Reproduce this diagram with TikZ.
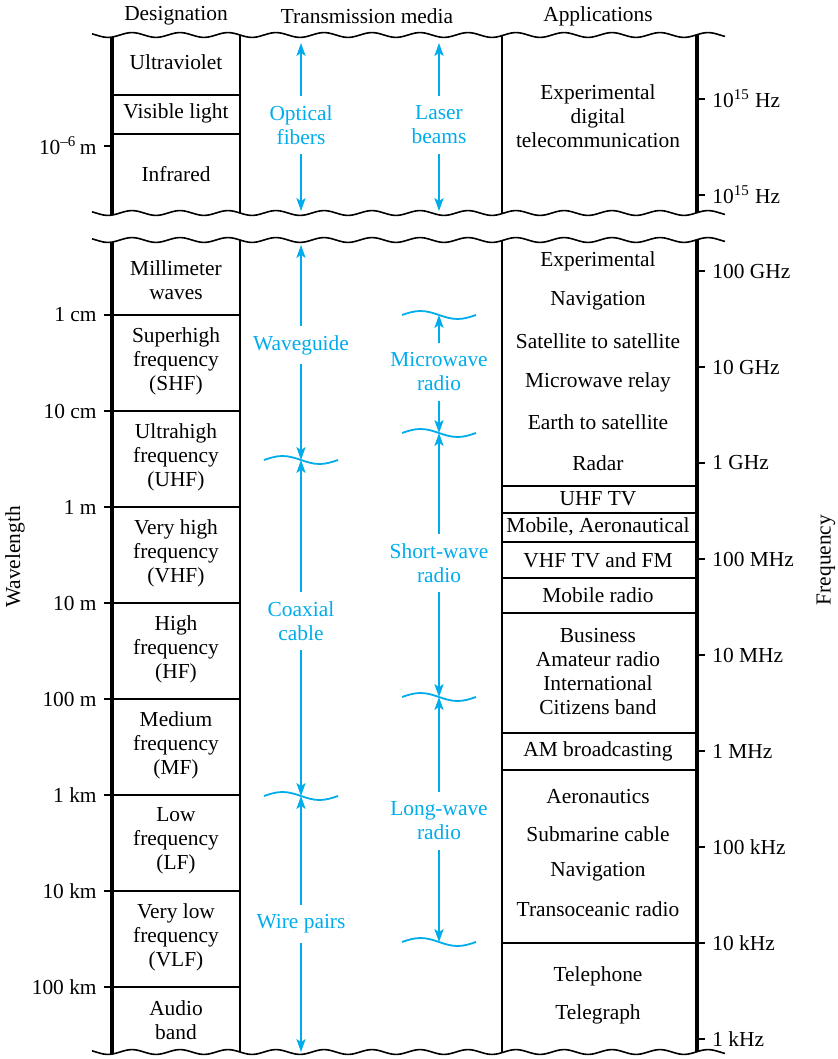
\documentclass[tikz,border=0pt]{standalone}
\usepackage{fontspec}
\setmainfont{Liberation Serif}
\usetikzlibrary{arrows.meta}
\definecolor{mediaBlue}{RGB}{0,172,236}
\newcommand{\brkline}[1]{\draw[rule] plot[domain=92:725,samples=220,smooth] (\x,{#1+2.4*sin(7.5*\x)});}

\begin{document}
\begin{tikzpicture}[x=0.5pt,y=-0.5pt,
  lab/.style={font=\fontsize{10.7}{12}\selectfont,align=center,inner sep=1pt},
  media/.style={lab,text=mediaBlue,inner sep=4.5pt},
  medarrow/.style={draw=mediaBlue,line width=0.9pt,-{Stealth[length=6.5pt,width=4.6pt,inset=1.6pt]}},
  medwave/.style={draw=mediaBlue,line width=0.9pt},
  axis/.style={line width=1.8pt},
  rule/.style={line width=0.8pt}]
  \useasboundingbox (0,0) rectangle (838,1059);
  \node[lab] (hdes) at (176,16) {Designation};
  \node[lab] (hmed) at (367,16) {Transmission media};
  \node[lab] (happ) at (598,16) {Applications};
  \node[lab,rotate=90] (wlen) at (15,557) {Wavelength};
  \node[lab,rotate=90] (freq) at (826,560) {Frequency};
  \brkline{35}\brkline{213}\brkline{240}\brkline{1052}
  \foreach \xc/\w in {112/axis,240/rule,502/rule,697/axis}{
    \draw[\w] (\xc,{35+2.4*sin(7.5*\xc)}) -- (\xc,{213+2.4*sin(7.5*\xc)});
    \draw[\w] (\xc,{240+2.4*sin(7.5*\xc)}) -- (\xc,{1052+2.4*sin(7.5*\xc)});
  }
  \draw[rule] (112,95) -- (240,95) (112,134) -- (240,134) (104,146) -- (112,146);
  \node[lab,anchor=east] (wl0) at (99,146) {10\textsuperscript{–6}\,m};
  \foreach \y/\t [count=\i] in {315/1 cm,411/10 cm,507/1 m,603/10 m,699/100 m,795/1 km,891/10 km,987/100 km}{
    \draw[rule] (104,\y) -- (240,\y);
    \node[lab,anchor=east] (wl\i) at (99,\y) {\t};
  }
  \draw[rule] (697,99) -- (705,99) (697,195) -- (705,195);
  \node[lab,anchor=west] (fqa) at (710,99) {10\textsuperscript{15} Hz};
  \node[lab,anchor=west] (fqb) at (710,195) {10\textsuperscript{15} Hz};
  \foreach \y/\t [count=\i] in {271/100 GHz,367/10 GHz,463/1 GHz,559/100 MHz,655/10 MHz,751/1 MHz,847/100 kHz,943/10 kHz,1039/1 kHz}{
    \draw[rule] (697,\y) -- (705,\y);
    \node[lab,anchor=west] (fq\i) at (710,\y) {\t};
  }
  \foreach \y in {486,513,542,578,613,733,770,943}
    \draw[rule] (502,\y) -- (697,\y);
  \foreach \y/\t [count=\i] in {62/Ultraviolet,113/Visible light,174/Infrared,
      280/{Millimeter\\waves},361/{Superhigh\\frequency\\(SHF)},457/{Ultrahigh\\frequency\\(UHF)},
      553/{Very high\\frequency\\(VHF)},649/{High\\frequency\\(HF)},745/{Medium\\frequency\\(MF)},
      841/{Low\\frequency\\(LF)},937/{Very low\\frequency\\(VLF)},1020/{Audio\\band}}
    \node[lab] (ds\i) at (176,\y) {\t};
  \foreach \y/\t [count=\i] in {116/{Experimental\\digital\\telecommunication},
      261/Experimental,301/Navigation,341/Satellite to satellite,382/Microwave relay,
      422/Earth to satellite,463/Radar,499/UHF TV,527/{Mobile, Aeronautical},
      560/VHF TV and FM,595/Mobile radio,672/{Business\\Amateur radio\\International\\Citizens band},
      751/AM broadcasting,797/Aeronautics,834/Submarine cable,872/Navigation,
      909/Transoceanic radio,976/Telephone,1014/Telegraph}
    \node[lab] (ap\i) at (598,\y) {\t};
  \foreach \n/\xc/\yc in {cwa/301/460,cwb/301/796,rwa/439/315,rwb/439/433,rwc/439/697,rwd/439/942}{
    \coordinate (\n) at (\xc,\yc);
    \draw[medwave] (\n) ++(-37,0) sin ++(18.5,-4) cos ++(18.5,4) sin ++(18.5,4) cos ++(18.5,-4);
  }
  \coordinate (optTop) at (301,43);
  \coordinate (optBot) at (301,211);
  \coordinate (lasTop) at (439,43);
  \coordinate (lasBot) at (439,211);
  \coordinate (wgTop) at (301,245);
  \coordinate (wpBot) at (301,1052);
  \node[media] (opt) at (301,125) {Optical\\fibers};
  \node[media] (las) at (439,125) {Laser\\beams};
  \node[media] (wg) at (301,345) {Waveguide};
  \node[media] (coax) at (301,621) {Coaxial\\cable};
  \node[media] (wp) at (301,924) {Wire pairs};
  \node[media] (mwr) at (439,372) {Microwave\\radio};
  \node[media] (swr) at (439,563) {Short-wave\\radio};
  \node[media] (lwr) at (439,821) {Long-wave\\radio};
  \draw[medarrow] (opt) -- (optTop);
  \draw[medarrow] (opt) -- (optBot);
  \draw[medarrow] (las) -- (lasTop);
  \draw[medarrow] (las) -- (lasBot);
  \draw[medarrow] (wg) -- (wgTop);
  \draw[medarrow] (wg) -- (cwa);
  \draw[medarrow] (coax) -- (cwa);
  \draw[medarrow] (coax) -- (cwb);
  \draw[medarrow] (wp) -- (cwb);
  \draw[medarrow] (wp) -- (wpBot);
  \draw[medarrow] (mwr) -- (rwa);
  \draw[medarrow] (mwr) -- (rwb);
  \draw[medarrow] (swr) -- (rwb);
  \draw[medarrow] (swr) -- (rwc);
  \draw[medarrow] (lwr) -- (rwc);
  \draw[medarrow] (lwr) -- (rwd);
\end{tikzpicture}
\end{document}
